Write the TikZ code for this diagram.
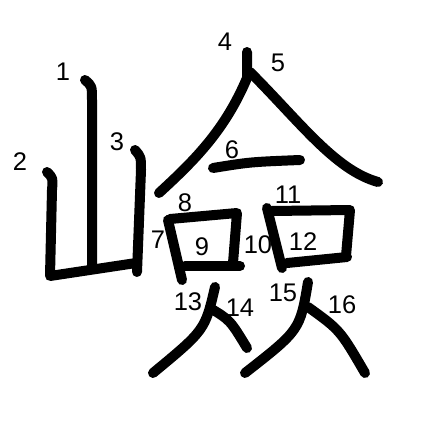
\documentclass[tikz,border=0pt]{standalone}
\usepackage{fontspec}
\setmainfont{Liberation Sans}
\begin{document}
\begin{tikzpicture}[x=1pt,y=-1pt,
  stroke/.style={line width=10pt, line cap=round, line join=round},
  num/.style={font=\fontsize{25.5}{26}\selectfont, inner sep=0pt}]
\useasboundingbox (0,0) rectangle (447,447);
% strokes
\draw[stroke] (85,80) .. controls (92,86) .. (92,100) -- (92,268);
\draw[stroke] (47,172) .. controls (53,178) .. (52,190) -- (50,276) -- (136,263);
\draw[stroke] (135,150) .. controls (141,157) .. (141,170) -- (137,272);
\draw[stroke] (247,52) -- (247,78) .. controls (225,130) and (195,160) .. (159,193);
\draw[stroke] (250,72) .. controls (300,122) and (335,170) .. (378,182);
\draw[stroke] (213,168) .. controls (250,162) .. (300,160);
\draw[stroke] (168,220) -- (182,280);
\draw[stroke] (170,219) -- (237,213) -- (233,263);
\draw[stroke] (185,266) -- (240,266);
\draw[stroke] (267,208) -- (282,268);
\draw[stroke] (272,211) -- (350,210) -- (346,256);
\draw[stroke] (287,263) -- (347,257);
\draw[stroke] (215,287) .. controls (205,330) .. (153,373);
\draw[stroke] (210,308) .. controls (230,320) .. (247,348);
\draw[stroke] (308,282) .. controls (300,330) .. (245,373);
\draw[stroke] (308,307) .. controls (340,330) .. (365,373);
% labels
\node[num] (n1) at (63,72) {1};
\node[num] (n2) at (20,162) {2};
\node[num] (n3) at (117,142) {3};
\node[num] (n4) at (225,42) {4};
\node[num] (n5) at (278,63) {5};
\node[num] (n6) at (232,150) {6};
\node[num] (n7) at (158,240) {7};
\node[num] (n8) at (185,203) {8};
\node[num] (n9) at (202,247) {9};
\node[num] (n10) at (258,245) {10};
\node[num] (n11) at (288,195) {11};
\node[num] (n12) at (303,242) {12};
\node[num] (n13) at (188,302) {13};
\node[num] (n14) at (240,308) {14};
\node[num] (n15) at (283,293) {15};
\node[num] (n16) at (342,305) {16};
\end{tikzpicture}
\end{document}
